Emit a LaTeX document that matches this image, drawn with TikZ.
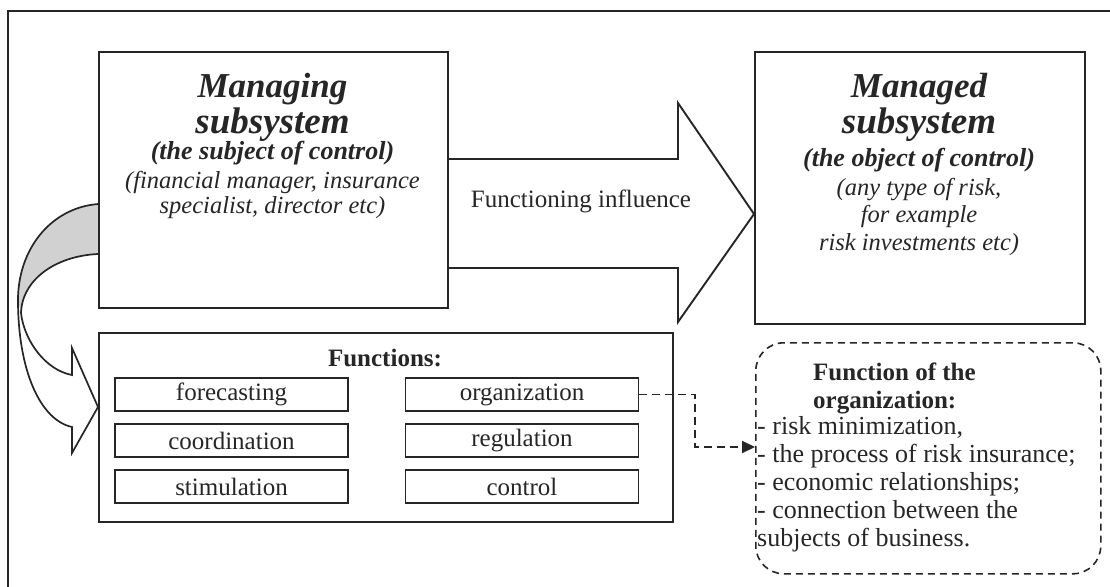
\documentclass[tikz,border=0pt]{standalone}
\usepackage{fontspec}
\setmainfont{Liberation Serif}
\usetikzlibrary{arrows.meta,calc}
\newcommand\fsz[1]{\fontsize{#1}{#1}\selectfont}
\begin{document}
\begin{tikzpicture}[x=1pt,y=-1pt,
  box/.style={draw=black!85, line width=1.9pt, fill=white, inner sep=0pt, anchor=north west},
  item/.style={draw=black!85, line width=1.7pt, minimum width=233pt, minimum height=33pt, inner sep=0pt, font=\fsz{25}, text=black!85},
  txt/.style={inner sep=0pt, anchor=base, text=black!85},
  txtl/.style={inner sep=0pt, anchor=base west, text=black!85},
  shapeline/.style={draw=black!85, line width=1.9pt},
  dashline/.style={draw=black!85, line width=1.8pt, dash pattern=on 8pt off 5pt},
  ]
\clip (0,0) rectangle (1110,586);
% outer frame
\draw[shapeline] (8,600) -- (8,11) -- (1120,11);

% curved arrow to the functions
\fill[black!18] (98,204) .. controls (50,208) and (18,250) .. (18,300) -- (21,313) .. controls (22,280) and (55,256) .. (98,254) -- cycle;
\draw[shapeline, line width=1.7pt, line join=miter] (98,204) .. controls (50,208) and (18,250) .. (18,300) .. controls (18,370) and (40,420) .. (72,427) -- (72,453) -- (98,407) -- (72,348) -- (72,375) .. controls (45,370) and (24,340) .. (21,313) .. controls (22,280) and (55,256) .. (98,254);

% boxes
\node[box, minimum width=349pt, minimum height=256pt] (mng) at (98,51) {};
\node[box, minimum width=330pt, minimum height=272pt] (mgd) at (754,51) {};
\node[box, minimum width=574pt, minimum height=189pt] (fn) at (98,332) {};

% big arrow
\draw[shapeline, line join=miter] (mng.east |- 0,159) -- (678,159) -- (678,103) -- (mgd.west |- 0,214) -- (678,322) -- (678,268) -- (mng.east |- 0,268);
\node[txt, font=\fsz{25}] (infl) at (581,207) {Functioning influence};

% managing text
\node[txt, font=\fsz{35}\bfseries\itshape] (mnga) at (272.5,97) {Managing};
\node[txt, font=\fsz{37}\bfseries\itshape] (mngb) at (272.5,133) {subsystem};
\node[txt, font=\fsz{26}\bfseries\itshape] (mngc) at (272.5,159) {(the subject of control)};
\node[txt, font=\fsz{24.5}\itshape] (mngd) at (272.5,188) {(financial manager, insurance};
\node[txt, font=\fsz{24.5}\itshape] (mnge) at (272.5,213) {specialist, director etc)};

% managed text
\node[txt, font=\fsz{35}\bfseries\itshape] (mgda) at (919,97) {Managed};
\node[txt, font=\fsz{37}\bfseries\itshape] (mgdb) at (919,133) {subsystem};
\node[txt, font=\fsz{26}\bfseries\itshape] (mgdc) at (919,166) {(the object of control)};
\node[txt, font=\fsz{24.5}\itshape] (mgdd) at (919,195) {(any type of risk,};
\node[txt, font=\fsz{24.5}\itshape] (mgde) at (919,222) {for example};
\node[txt, font=\fsz{24.5}\itshape] (mgdf) at (919,250) {risk investments etc)};

% functions
\node[txt, font=\fsz{25}\bfseries] (fnt) at (385,366) {Functions:};
\node[item] (f1) at (231.5,394.5) {forecasting};
\node[item] (f2) at (231.5,440.5) {coordination};
\node[item] (f3) at (231.5,486.5) {stimulation};
\node[item] (f4) at (522,394.5) {organization};
\node[item] (f5) at (522,440.5) {regulation};
\node[item] (f6) at (522,486.5) {control};

% function of the organization
\node[box, fill=none, minimum width=345pt, minimum height=231pt, rounded corners=28pt, line width=1.6pt, dash pattern=on 7pt off 5pt] (fob) at (755,342) {};
\coordinate (bend) at (695,447);
\draw[dashline, -{Triangle[length=13pt,width=12pt]}] (f4.east) -| (bend) -- (bend -| fob.west);

\node[txtl, font=\fsz{25}\bfseries] (foba) at (813,380) {Function of the};
\node[txtl, font=\fsz{25}\bfseries] (fobb) at (813,408) {organization:};
\node[txtl, font=\fsz{26}] (fobc) at (757,434) {- risk minimization,};
\node[txtl, font=\fsz{26}] (fobd) at (757,462) {- the process of risk insurance;};
\node[txtl, font=\fsz{26}] (fobe) at (757,490) {- economic relationships;};
\node[txtl, font=\fsz{26}] (fobf) at (757,518) {- connection between the};
\node[txtl, font=\fsz{26}] (fobg) at (757,546) {subjects of business.};
\end{tikzpicture}
\end{document}
